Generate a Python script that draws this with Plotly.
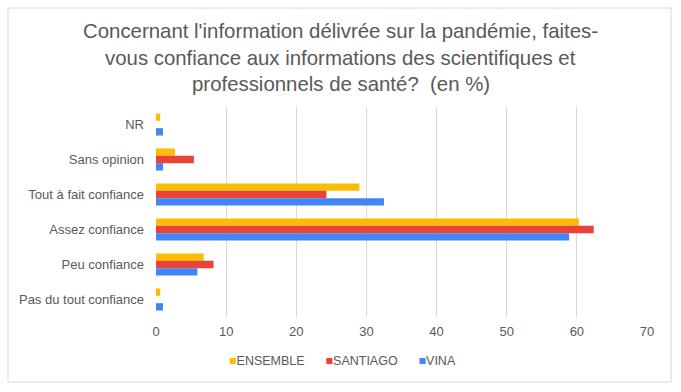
import plotly.graph_objects as go

categories = ["NR", "Sans opinion", "Tout à fait confiance", "Assez confiance",
              "Peu confiance", "Pas du tout confiance"]
ensemble = [0.6, 2.7, 29.0, 60.3, 6.8, 0.6]
santiago = [0.0, 5.4, 24.3, 62.4, 8.2, 0.0]
vina = [1.0, 1.0, 32.5, 58.9, 5.9, 1.0]
series_names = ["ENSEMBLE", "SANTIAGO", "VINA"]
colors = ["#FBBC04", "#EA4335", "#4285F4"]
x_ticks = [0, 10, 20, 30, 40, 50, 60, 70]
title_lines = ["Concernant l'information délivrée sur la pandémie, faites-",
               "vous confiance aux informations des scientifiques et",
               "professionnels de santé?  (en %)"]

W, H = 681, 392
L, R, T, B = 156, 34, 107, 75
pw, ph = W - L - R, H - T - B

def px_x(px):
    return (px - L) / pw

def px_y(py):
    return (H - B - py) / ph

fig = go.Figure()
for name, vals, col in zip(series_names, [ensemble, santiago, vina], colors):
    fig.add_trace(go.Bar(y=categories, x=vals, name=name, orientation="h",
                         marker=dict(color=col, line=dict(width=0)),
                         showlegend=False))

font = "Liberation Sans"
grey = "#595959"

annotations = []
for i, line in enumerate(title_lines):
    annotations.append(dict(text=line, x=px_x(340.5), y=px_y(31.5 + i * 26.5),
                            xref="paper", yref="paper", showarrow=False,
                            xanchor="center", yanchor="middle",
                            font=dict(family=font, size=20.4, color=grey)))

# legend as text with coloured squares
legend_parts = []
for name, col in zip(series_names, colors):
    legend_parts.append(f'<span style="color:{col}">■</span>{name}')
legend_text = "      ".join(legend_parts)
annotations.append(dict(text=legend_text, x=px_x(342.5), y=px_y(360.5),
                        xref="paper", yref="paper", showarrow=False,
                        xanchor="center", yanchor="middle",
                        font=dict(family=font, size=12.5, color=grey)))

fig.update_layout(
    width=W, height=H,
    margin=dict(l=L, r=R, t=T, b=B),
    paper_bgcolor="white", plot_bgcolor="white",
    barmode="group", bargap=0.37, bargroupgap=0,
    font=dict(family=font, size=13, color=grey),
    showlegend=False,
    annotations=annotations,
    shapes=[dict(type="rect", xref="paper", yref="paper",
                 x0=px_x(8), x1=px_x(671), y0=px_y(382), y1=px_y(8),
                 line=dict(color="#D9D9D9", width=1), fillcolor="rgba(0,0,0,0)",
                 layer="below")],
    xaxis=dict(range=[0, 70], tickvals=x_ticks, showgrid=True, gridcolor="#D9D9D9",
               gridwidth=1, zeroline=False, showline=False, ticks="",
               tickfont=dict(family=font, size=13, color=grey), ticklabelstandoff=5,
               fixedrange=True),
    yaxis=dict(autorange="reversed", showgrid=False, zeroline=False, showline=False,
               ticks="", tickfont=dict(family=font, size=13, color=grey),
               ticklabelstandoff=11, fixedrange=True),
)

fig.write_html("out.html", config={"displayModeBar": False},
               post_script="document.body.style.margin='0';document.body.style.padding='0';")
